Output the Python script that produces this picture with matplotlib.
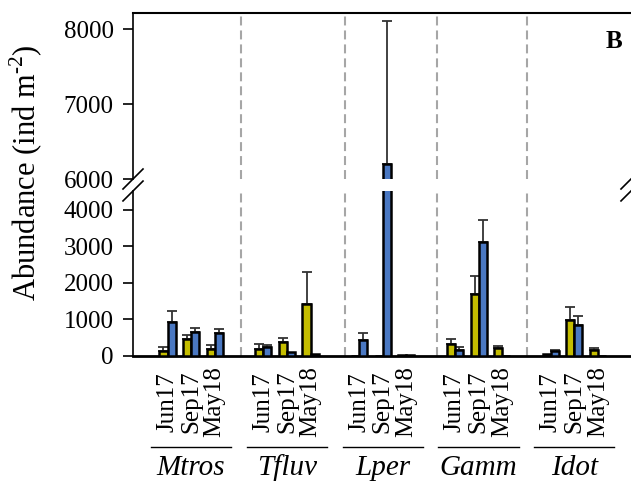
import matplotlib
matplotlib.use("Agg")
import matplotlib.pyplot as plt
import matplotlib.transforms as mtransforms
import numpy as np

plt.rcParams["font.family"] = ["Liberation Serif", "DejaVu Serif"]
plt.rcParams["mathtext.fontset"] = "custom"
plt.rcParams["mathtext.rm"] = "Liberation Serif"

groups = ["Mtros", "Tfluv", "Lper", "Gamm", "Idot"]
months = ["Jun17", "Sep17", "May18"]

# values per group, months in order Jun17, Sep17, May18
yellow_vals = [[145, 457, 192], [200, 375, 1433], [0, 0, 30], [329, 1690, 228], [45, 995, 164]]
yellow_err = [[110, 110, 110], [120, 110, 860], [0, 0, 0], [137, 510, 37], [0, 356, 64]]
blue_vals = [[923, 649, 630], [238, 118, 45], [430, 6207, 15], [173, 3115, 10], [146, 850, 10]]
blue_err = [[317, 127, 110], [55, 0, 0], [192, 1900, 0], [83, 620, 0], [20, 237, 0]]

YELLOW = "#c4bd00"
BLUE = "#4a78c2"
GROUP_STEP = 4.06
BAR_W = 0.34
sep_pos = [3.11, 7.52, 11.42, 15.23]

fig = plt.figure(figsize=(6.31, 4.82), dpi=100)
ax_top = fig.add_axes([133 / 631, 1 - 179 / 482, 498 / 631, 166 / 482])
ax_bot = fig.add_axes([133 / 631, 1 - 356 / 482, 498 / 631, 165 / 482])

centers = np.array([g * GROUP_STEP + k for g in range(len(groups)) for k in range(len(months))])
yv = np.array(yellow_vals).ravel()
ye = np.array(yellow_err).ravel()
bv = np.array(blue_vals).ravel()
be = np.array(blue_err).ravel()

for ax in (ax_top, ax_bot):
    for xs, vals, errs, col in [(centers - BAR_W / 2, yv, ye, YELLOW),
                                (centers + BAR_W / 2, bv, be, BLUE)]:
        ax.bar(xs, vals, width=BAR_W, color=col, edgecolor="black", linewidth=1.8, zorder=3)
        m = errs > 0
        ax.errorbar(xs[m], vals[m], yerr=[np.zeros(m.sum()), errs[m]], fmt="none",
                    ecolor="#333333", elinewidth=1.3, capsize=3.6, capthick=1.3, zorder=2)
    for s in sep_pos:
        ax.axvline(s, color="#a6a6a6", lw=1.5, ls=(0, (4.3, 2.4)), zorder=1)
    ax.set_xlim(-1.462, 19.64)
    ax.set_xticks([])
    ax.spines["right"].set_visible(False)
    ax.spines["left"].set_linewidth(1.2)
    ax.tick_params(axis="y", labelsize=18, length=7, width=1.2, pad=7, direction="out")

ax_top.set_ylim(6000, 8220)
ax_top.set_yticks([6000, 7000, 8000])
ax_top.spines["bottom"].set_visible(False)
ax_top.spines["top"].set_linewidth(1.5)

ax_bot.set_ylim(0, 4520)
ax_bot.set_yticks([0, 1000, 2000, 3000, 4000])
ax_bot.spines["top"].set_visible(False)
ax_bot.spines["bottom"].set_linewidth(2)

# break marks
dx, dy = 10 / 498, 10 / 166
kw = dict(color="black", lw=1.2, clip_on=False)
for xx in (0, 1):
    ax_top.plot([xx - dx, xx + dx], [-dy, dy], transform=ax_top.transAxes, **kw)
    ax_bot.plot([xx - dx, xx + dx], [1 - dy, 1 + dy], transform=ax_bot.transAxes, **kw)

# category labels under the axis
trans = mtransforms.blended_transform_factory(ax_bot.transData, fig.transFigure)
for c, lab in zip(centers, months * len(groups)):
    ax_bot.text(c, 1 - 402 / 482, lab, rotation=90, ha="center", va="center",
                fontsize=18, transform=trans)
for g, name in enumerate(groups):
    mid = g * GROUP_STEP + 1
    ax_bot.plot([mid - 1.7, mid + 1.7], [1 - 447 / 482] * 2, color="black", lw=1,
                transform=trans, clip_on=False)
    ax_bot.text(mid, 1 - 475 / 482, name, style="italic", ha="center", va="baseline",
                fontsize=21, transform=trans)

fig.text(26 / 631, 1 - 173 / 482, "Abundance (ind m$^{\\mathregular{\u20102}}$)", rotation=90,
         ha="center", va="center", fontsize=22)
fig.text(614 / 631, 1 - 41 / 482, "B", fontweight="bold", ha="center", va="center", fontsize=18)

fig.savefig("out.png", dpi=100)
plt.close(fig)
